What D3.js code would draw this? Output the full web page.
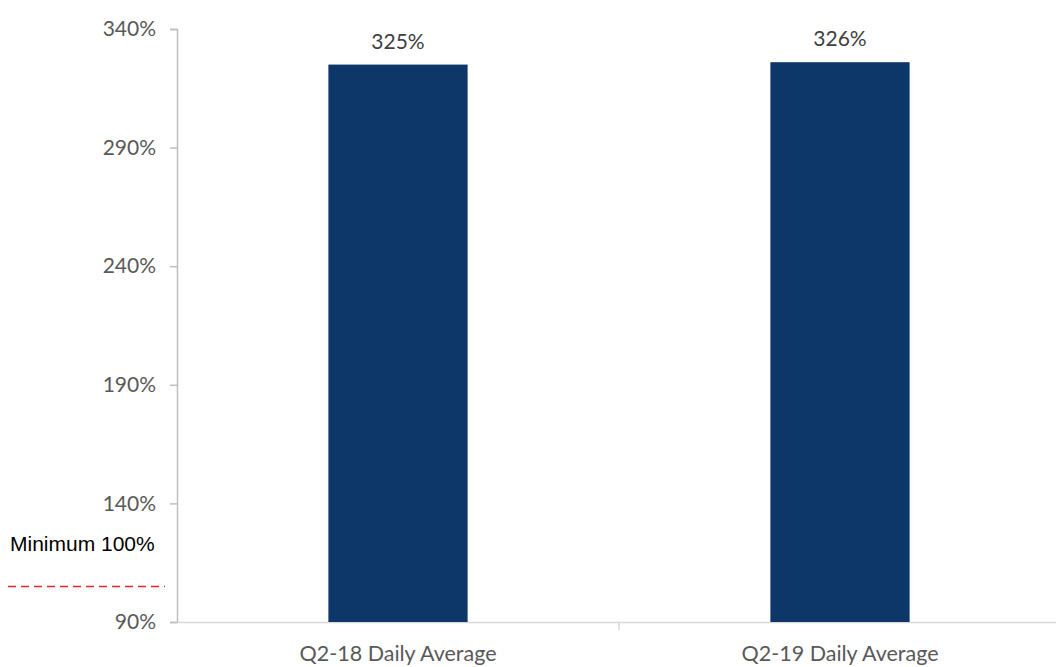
<!DOCTYPE html>
<html><head><meta charset="utf-8">
<script src="https://cdn.jsdelivr.net/npm/d3@7"></script>
<style>body{margin:0;background:#fff}svg{display:block}</style>
</head><body><svg id="c" width="1056" height="667"></svg>
<script>
const categories = ["Q2-18 Daily Average", "Q2-19 Daily Average"];
const values = [325, 326];
const yTicks = [90, 140, 190, 240, 290, 340];
const minimumLabel = "Minimum 100%";
const minimumLineValue = 105;

(function () {
const svg = d3.select("#c");
const mLeft = 177, mRight = 1061, mTop = 29, mBottom = 622;

const y = d3.scaleLinear().domain([90, 340]).range([mBottom, mTop]);
const x = d3.scaleBand().domain(categories).range([mLeft, mRight]).padding(0);
const barW = x.bandwidth() * 0.315;

const font = "Lato, 'Open Sans', sans-serif";

// y axis
const yAxis = svg.append("g").attr("transform", `translate(${mLeft},0)`)
  .call(d3.axisLeft(y).tickValues(yTicks).tickSize(7).tickPadding(14).tickFormat(d => d + "%"));
yAxis.select(".domain").attr("stroke", "#bfbfbf").attr("stroke-width", 1.5);
yAxis.selectAll(".tick line").attr("stroke", "#bfbfbf").attr("stroke-width", 1.5);
yAxis.selectAll(".tick text").attr("fill", "#595959").style("font-family", font).style("font-size", "21px");

// x axis
const xAxis = svg.append("g").attr("transform", `translate(0,${mBottom})`)
  .call(d3.axisBottom(x).tickSize(0).tickPadding(24));
xAxis.select(".domain").attr("stroke", "#d9d9d9").attr("stroke-width", 1.5);
xAxis.selectAll(".tick text").attr("fill", "#595959").style("font-family", font).style("font-size", "21.5px");
svg.append("line").attr("x1", x(categories[1])).attr("x2", x(categories[1]))
  .attr("y1", mBottom).attr("y2", mBottom + 8).attr("stroke", "#d9d9d9").attr("stroke-width", 1.5);

// bars
svg.selectAll("rect.bar").data(values).join("rect").attr("class", "bar")
  .attr("x", (d, i) => x(categories[i]) + x.bandwidth() / 2 - barW / 2)
  .attr("width", barW)
  .attr("y", d => y(d))
  .attr("height", d => y(90) - y(d))
  .attr("fill", "#0c3768");

// value labels
svg.selectAll("text.val").data(values).join("text").attr("class", "val")
  .attr("x", (d, i) => x(categories[i]) + x.bandwidth() / 2)
  .attr("y", d => y(d) - 16)
  .attr("text-anchor", "middle")
  .attr("fill", "#404040")
  .style("font-family", font).style("font-size", "21px")
  .text(d => d + "%");

// minimum annotation
svg.append("line").attr("x1", 8).attr("x2", 165)
  .attr("y1", y(minimumLineValue)).attr("y2", y(minimumLineValue))
  .attr("stroke", "#e8242c").attr("stroke-width", 1.5).attr("stroke-dasharray", "8,5");
svg.append("text").attr("x", 10).attr("y", 551)
  .attr("fill", "#000").style("font-family", "'Liberation Sans', Arial, sans-serif").style("font-size", "21px")
  .text(minimumLabel);
})();
</script></body></html>
